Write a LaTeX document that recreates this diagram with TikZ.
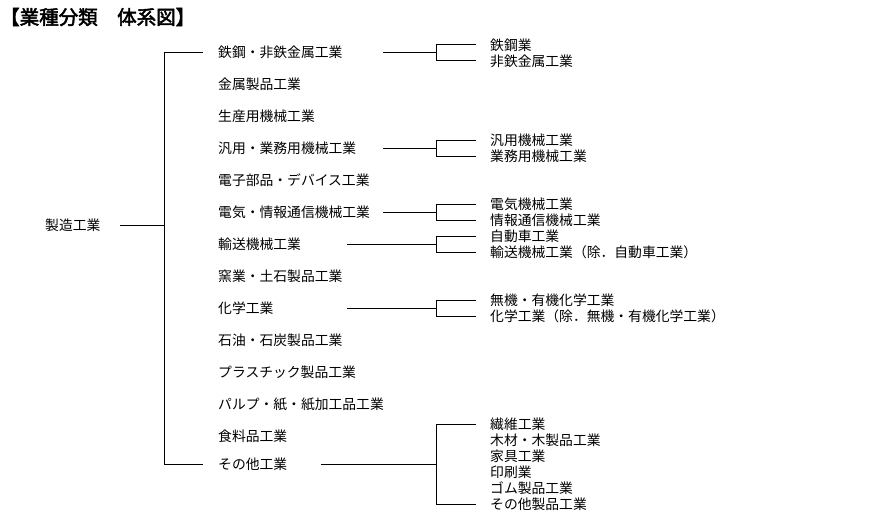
\documentclass[tikz,border=0pt]{standalone}
\usepackage{fontspec}
\newfontfamily\cjk[AutoFakeBold=2.5]{Noto Sans CJK JP}
\begin{document}
\begin{tikzpicture}[x=1pt,y=-1pt,
  lbl/.style={anchor=west,inner sep=0pt,font=\cjk\fontsize{13.8}{16}\selectfont},
  ttl/.style={anchor=west,inner sep=0pt,font=\cjk\bfseries\fontsize{19.5}{22}\selectfont},
  ln/.style={line width=0.9pt,black}]
\useasboundingbox (0,0) rectangle (882,514);
\node[ttl] (title) at (0,17) {【業種分類　体系図】};
% root
\node[lbl] (mfg) at (45,225) {製造工業};
\coordinate (rootL) at (120,225);
\coordinate (spine) at (164,225);
\draw[ln] (rootL) -- (spine);
% level 1 items
\node[lbl] (a1) at (218,52) {鉄鋼・非鉄金属工業};
\node[lbl] (a2) at (218,84) {金属製品工業};
\node[lbl] (a3) at (218,116) {生産用機械工業};
\node[lbl] (a4) at (218,148) {汎用・業務用機械工業};
\node[lbl] (a5) at (218,180) {電子部品・デバイス工業};
\node[lbl] (a6) at (218,212) {電気・情報通信機械工業};
\node[lbl] (a7) at (218,244) {輸送機械工業};
\node[lbl] (a8) at (218,276) {窯業・土石製品工業};
\node[lbl] (a9) at (218,308) {化学工業};
\node[lbl] (a10) at (218,340) {石油・石炭製品工業};
\node[lbl] (a11) at (218,372) {プラスチック製品工業};
\node[lbl] (a12) at (218,404) {パルプ・紙・紙加工品工業};
\node[lbl] (a13) at (218,436) {食料品工業};
\node[lbl] (a14) at (218,464) {その他工業};
\coordinate (sTop) at (164,52);
\coordinate (sBot) at (164,464);
\coordinate (tTop) at (203,52);
\coordinate (tBot) at (203,464);
\draw[ln] (tTop) -- (sTop) -- (sBot) -- (tBot);
% sub groups
\node[lbl] (b1) at (490,45) {鉄鋼業};
\node[lbl] (b2) at (490,61) {非鉄金属工業};
\node[lbl] (c1) at (490,140) {汎用機械工業};
\node[lbl] (c2) at (490,156) {業務用機械工業};
\node[lbl] (d1) at (490,204) {電気機械工業};
\node[lbl] (d2) at (490,220) {情報通信機械工業};
\node[lbl] (e1) at (490,236) {自動車工業};
\node[lbl] (e2) at (490,252) {輸送機械工業（除．自動車工業）};
\node[lbl] (f1) at (490,300) {無機・有機化学工業};
\node[lbl] (f2) at (490,316) {化学工業（除．無機・有機化学工業）};
\node[lbl] (g1) at (490,424) {繊維工業};
\node[lbl] (g2) at (490,440) {木材・木製品工業};
\node[lbl] (g3) at (490,456) {家具工業};
\node[lbl] (g4) at (490,472) {印刷業};
\node[lbl] (g5) at (490,488) {ゴム製品工業};
\node[lbl] (g6) at (490,504) {その他製品工業};
% brackets: start x / y / top y / bottom y
\foreach \sx/\y/\ty/\by in {383/52/44/60, 383/148/140/156, 383/212/204/220, 347/244/236/252, 347/308/300/316, 321/464/424/504}{
  \coordinate (s) at (\sx,\y);
  \coordinate (m) at (436,\y);
  \coordinate (mt) at (436,\ty);
  \coordinate (mb) at (436,\by);
  \coordinate (et) at (476,\ty);
  \coordinate (eb) at (476,\by);
  \draw[ln] (s) -- (m);
  \draw[ln] (et) -- (mt) -- (mb) -- (eb);
}
\end{tikzpicture}
\end{document}
